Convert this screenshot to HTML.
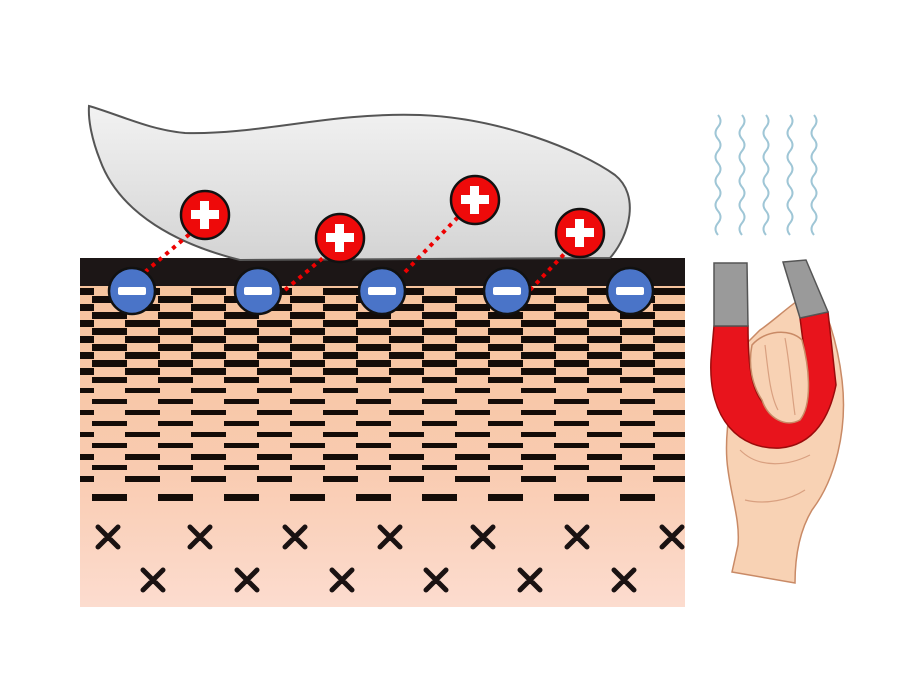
<!DOCTYPE html>
<html><head><meta charset="utf-8"><style>
html,body{margin:0;padding:0;background:#fff;width:910px;height:676px;overflow:hidden}
</style></head><body>
<svg width="910" height="676" viewBox="0 0 910 676" xmlns="http://www.w3.org/2000/svg">
<defs>
<linearGradient id="skin" x1="0" y1="0" x2="0" y2="1">
<stop offset="0" stop-color="#f6c29a"/><stop offset="0.6" stop-color="#f9cbb0"/><stop offset="1" stop-color="#fcdccf"/>
</linearGradient>
<linearGradient id="blob" x1="0" y1="0" x2="0" y2="1">
<stop offset="0" stop-color="#f2f2f2"/><stop offset="1" stop-color="#d4d4d4"/>
</linearGradient>
<pattern id="A" patternUnits="userSpaceOnUse" x="92" y="0" width="66" height="676"><rect x="0" y="0" width="35" height="676" fill="#140c08"/></pattern>
<pattern id="B" patternUnits="userSpaceOnUse" x="125" y="0" width="66" height="676"><rect x="0" y="0" width="35" height="676" fill="#140c08"/></pattern>
</defs>
<rect x="80" y="258" width="605" height="349" fill="url(#skin)"/>
<rect x="80" y="258" width="605" height="28" fill="#1c1616"/>
<g>
<rect x="80" y="288" width="605" height="7" fill="url(#B)"/>
<rect x="80" y="296" width="605" height="7" fill="url(#A)"/>
<rect x="80" y="304" width="605" height="7" fill="url(#B)"/>
<rect x="80" y="312" width="605" height="7" fill="url(#A)"/>
<rect x="80" y="320" width="605" height="7" fill="url(#B)"/>
<rect x="80" y="328" width="605" height="7" fill="url(#A)"/>
<rect x="80" y="336" width="605" height="7" fill="url(#B)"/>
<rect x="80" y="344" width="605" height="7" fill="url(#A)"/>
<rect x="80" y="352" width="605" height="7" fill="url(#B)"/>
<rect x="80" y="360" width="605" height="7" fill="url(#A)"/>
<rect x="80" y="368" width="605" height="7" fill="url(#B)"/>
<rect x="80" y="377" width="605" height="6" fill="url(#A)"/>
<rect x="80" y="388" width="605" height="5" fill="url(#B)"/>
<rect x="80" y="399" width="605" height="5" fill="url(#A)"/>
<rect x="80" y="410" width="605" height="5" fill="url(#B)"/>
<rect x="80" y="421" width="605" height="5" fill="url(#A)"/>
<rect x="80" y="432" width="605" height="5" fill="url(#B)"/>
<rect x="80" y="443" width="605" height="5" fill="url(#A)"/>
<rect x="80" y="454" width="605" height="6" fill="url(#B)"/>
<rect x="80" y="465" width="605" height="5" fill="url(#A)"/>
<rect x="80" y="476" width="605" height="6" fill="url(#B)"/>
<rect x="80" y="494" width="605" height="7" fill="url(#A)"/>
</g>
<g stroke="#1a1212" stroke-width="5" stroke-linecap="round">
<path d="M98,527 l20,20 M118,527 l-20,20 M190,527 l20,20 M210,527 l-20,20 M285,527 l20,20 M305,527 l-20,20 M380,527 l20,20 M400,527 l-20,20 M473,527 l20,20 M493,527 l-20,20 M567,527 l20,20 M587,527 l-20,20 M662,527 l20,20 M682,527 l-20,20"/>
<path d="M143,570 l20,20 M163,570 l-20,20 M237,570 l20,20 M257,570 l-20,20 M332,570 l20,20 M352,570 l-20,20 M426,570 l20,20 M446,570 l-20,20 M520,570 l20,20 M540,570 l-20,20 M614,570 l20,20 M634,570 l-20,20"/>
</g>
<path d="M89,106 C120,115 150,130 185,133 C260,135 330,112 420,115 C500,118 580,150 615,175 C640,195 630,235 610,258 L240,260 C180,245 120,215 100,160 C92,140 88,120 89,106 Z" fill="url(#blob)" stroke="#555" stroke-width="2"/>
<g stroke="#e00" stroke-width="4" stroke-dasharray="4 5" fill="none">
<line x1="145" y1="272" x2="192" y2="232"/>
<line x1="285" y1="290" x2="330" y2="252"/>
<line x1="405" y1="272" x2="460" y2="215"/>
<line x1="530" y1="290" x2="568" y2="250"/>
</g>
<g stroke="#111" stroke-width="2.5" fill="#4a74c8">
<circle cx="132" cy="291" r="23"/><circle cx="258" cy="291" r="23"/><circle cx="382" cy="291" r="23"/><circle cx="507" cy="291" r="23"/><circle cx="630" cy="291" r="23"/>
</g>
<g fill="#fff">
<rect x="118" y="287" width="28" height="8" rx="2"/><rect x="244" y="287" width="28" height="8" rx="2"/><rect x="368" y="287" width="28" height="8" rx="2"/><rect x="493" y="287" width="28" height="8" rx="2"/><rect x="616" y="287" width="28" height="8" rx="2"/>
</g>
<g stroke="#111" stroke-width="2.5" fill="#ee0a0a">
<circle cx="205" cy="215" r="24"/><circle cx="340" cy="238" r="24"/><circle cx="475" cy="200" r="24"/><circle cx="580" cy="233" r="24"/>
</g>
<g fill="#fff">
<rect x="191" y="210" width="28" height="9"/><rect x="200" y="201" width="9" height="28"/>
<rect x="326" y="233" width="28" height="9"/><rect x="335" y="224" width="9" height="28"/>
<rect x="461" y="195" width="28" height="9"/><rect x="470" y="186" width="9" height="28"/>
<rect x="566" y="228" width="28" height="9"/><rect x="575" y="219" width="9" height="28"/>
</g>
<g stroke="#9fc6d6" stroke-width="2" fill="none">
<path id="w" d="M718,115 q5,6 0,12 q-5,6 0,12 q5,6 0,12 q-5,6 0,12 q5,6 0,12 q-5,6 0,12 q5,6 0,12 q-5,6 0,12 q5,6 0,12 q-5,6 0,12"/>
<use href="#w" x="24"/><use href="#w" x="48"/><use href="#w" x="72"/><use href="#w" x="96"/>
</g>
<!-- hand body -->
<path d="M745,345 C735,380 722,430 728,470 C732,500 740,520 738,545 L732,572 L795,583 C795,555 800,530 812,510 C835,480 848,430 842,380 C838,345 825,300 812,292 C795,300 775,320 760,330 Z" fill="#f8d2b4" stroke="#c98a66" stroke-width="1.5"/>
<!-- magnet -->
<path d="M714,326 L711,360 C708,420 740,450 780,448 C815,445 830,415 836,385 L828,312 L800,318 L808,380 C805,410 780,420 765,405 C750,390 748,360 748,326 Z" fill="#e8141c" stroke="#9b0b0b" stroke-width="1.5"/>
<path d="M714,263 L747,263 L748,326 L714,326 Z" fill="#9a9a9a" stroke="#555" stroke-width="1.5"/>
<path d="M783,262 L806,260 L828,312 L800,318 Z" fill="#9a9a9a" stroke="#555" stroke-width="1.5"/>
<!-- fingers over magnet -->
<path d="M752,345 C765,330 790,328 802,340 C810,370 812,405 800,420 C785,428 768,418 762,400 C752,385 748,365 752,345 Z" fill="#f8d2b4" stroke="#c98a66" stroke-width="1.5"/>
<path d="M765,345 C768,370 770,395 778,410 M785,338 C790,365 792,395 795,415" fill="none" stroke="#d9a080" stroke-width="1.2"/>
<path d="M740,450 C760,470 790,465 810,455 M745,500 C765,505 790,500 805,490" fill="none" stroke="#d9a080" stroke-width="1.2"/>
</svg>
</body></html>
